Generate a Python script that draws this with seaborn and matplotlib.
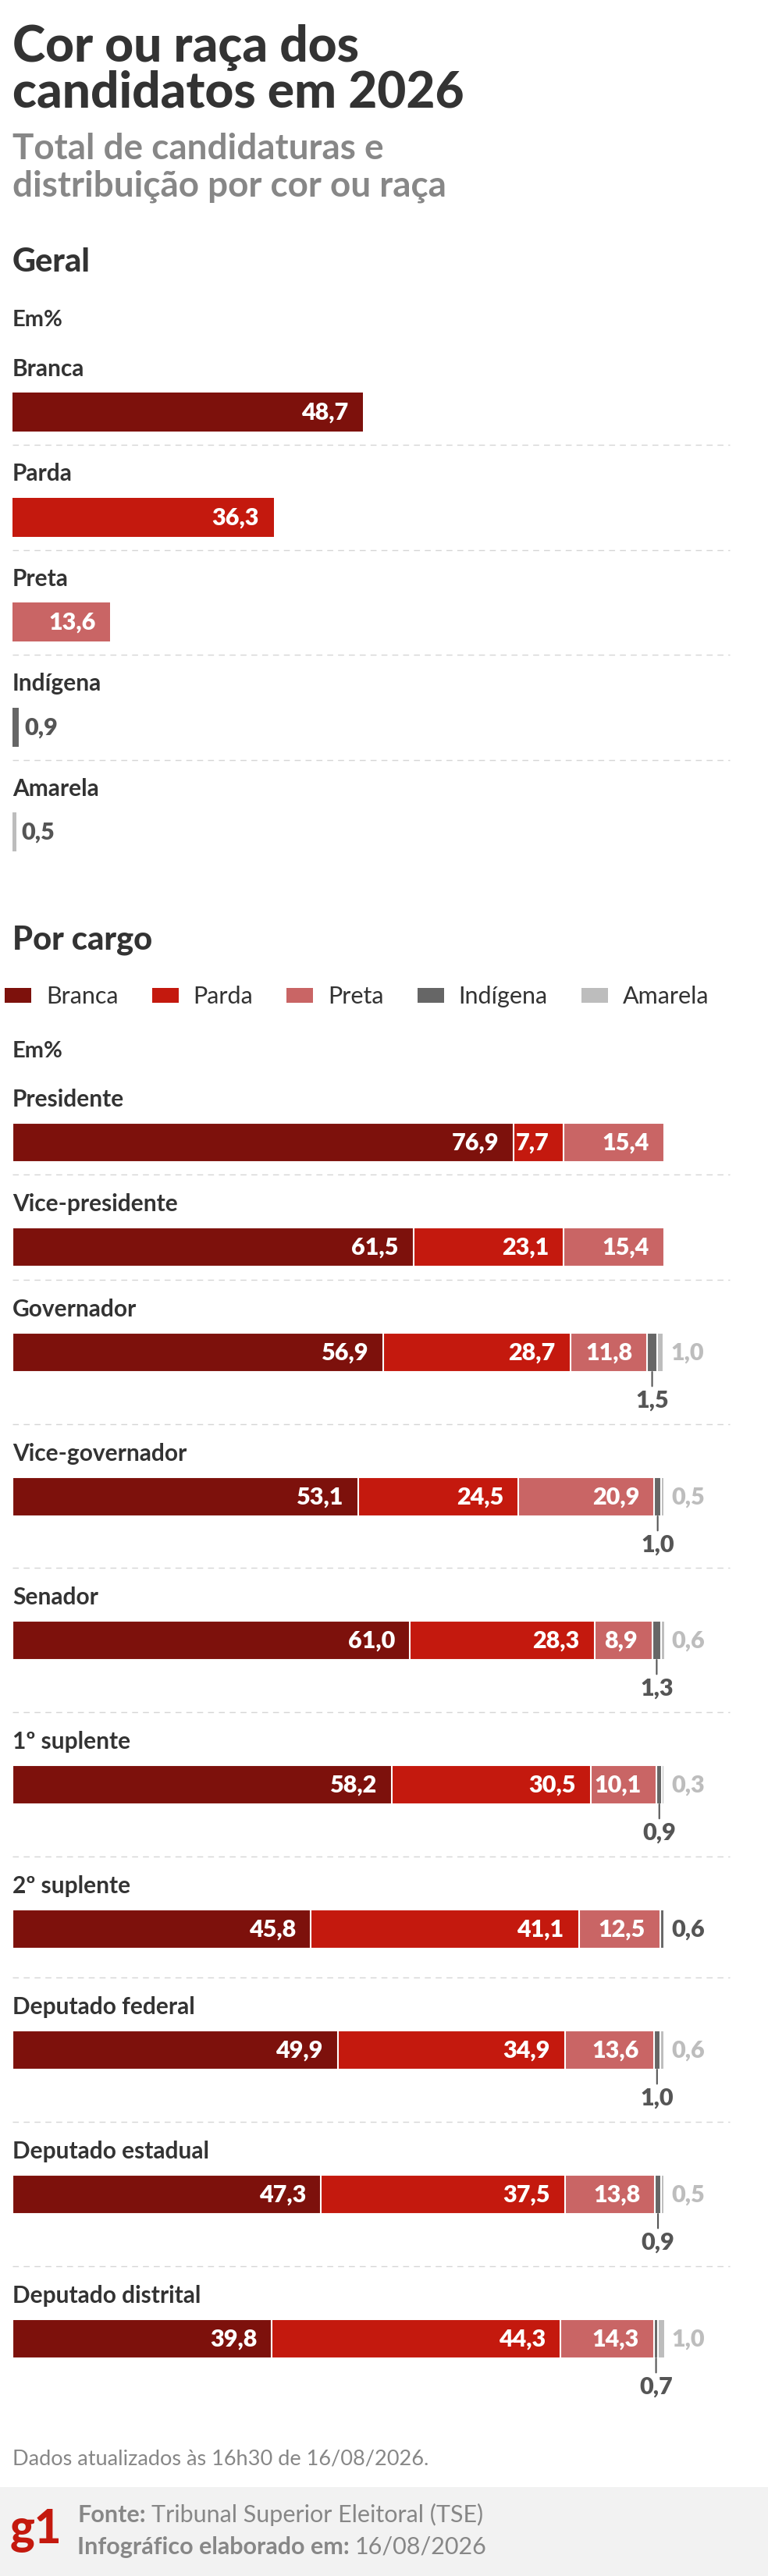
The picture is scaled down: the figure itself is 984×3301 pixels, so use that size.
import matplotlib
matplotlib.use("Agg")
import matplotlib.pyplot as plt
import seaborn as sns
import pandas as pd
import numpy as np
from matplotlib.patches import Rectangle, Patch
from matplotlib.lines import Line2D

# ---------------- dados ----------------
cores = ["Branca", "Parda", "Preta", "Indígena", "Amarela"]
paleta = ["#7d110c", "#c4190e", "#c96565", "#666666", "#bdbdbd"]

geral = [48.7, 36.3, 13.6, 0.9, 0.5]

cargos = ["Presidente", "Vice-presidente", "Governador", "Vice-governador", "Senador",
          "1º suplente", "2º suplente", "Deputado federal", "Deputado estadual",
          "Deputado distrital"]
branca = [76.9, 61.5, 56.9, 53.1, 61.0, 58.2, 45.8, 49.9, 47.3, 39.8]
parda = [7.7, 23.1, 28.7, 24.5, 28.3, 30.5, 41.1, 34.9, 37.5, 44.3]
preta = [15.4, 15.4, 11.8, 20.9, 8.9, 10.1, 12.5, 13.6, 13.8, 14.3]
indigena = [0, 0, 1.5, 1.0, 1.3, 0.9, 0.6, 1.0, 0.9, 0.7]
amarela = [0, 0, 1.0, 0.5, 0.6, 0.3, 0, 0.6, 0.5, 1.0]

# ---------------- layout ----------------
W, H = 984, 3301
PT = 0.72  # px -> pt a 100 dpi
ESCURO = "#333333"
CINZA = "#878787"
ROTULO = "#555555"
FS_CAT = 21.5
FS_VAL = 22
PESADA = ["Lato Black", "Lato", "DejaVu Sans"]

sns.set_style("white")
plt.rcParams["font.family"] = ["Lato", "DejaVu Sans"]

fig = plt.figure(figsize=(W / 100, H / 100), dpi=100)
fig.patch.set_facecolor("white")


def fx(px):
    return px / W


def fy(px):
    return 1 - px / H


def txt(x, y, s, size, weight="bold", color=ESCURO, ha="left", family=None):
    kw = {"family": family} if family else {}
    return fig.text(fx(x), fy(y), s, fontsize=size, fontweight=weight,
                    color=color, va="baseline", ha=ha, **kw)


def fmt(v):
    return f"{v:.1f}".replace(".", ",")


def tracejado(y, x0=16, x1=935):
    fig.add_artist(Line2D([fx(x0), fx(x1)], [fy(y), fy(y)], color="#d6d6d6",
                          lw=1, linestyle=(0, (5.5, 4.5))))


def rotulo(ax, s, xy, dx, dy, ha, color, **kw):
    return ax.annotate(s, xy=xy, xytext=(dx * PT, dy * PT), textcoords="offset points",
                       ha=ha, va="baseline", fontsize=FS_VAL, fontweight="heavy",
                       color=color, annotation_clip=False, **kw)


# títulos
txt(16, 79, "Cor ou raça dos", 46, "black", family=PESADA)
txt(16, 138, "candidatos em 2026", 46, "black", family=PESADA)
txt(16, 204, "Total de candidaturas e", 33, "bold", CINZA)
txt(16, 252, "distribuição por cor ou raça", 33, "bold", CINZA)

# ---------------- Geral ----------------
txt(16, 348, "Geral", 30, "black", family=PESADA)
txt(16, 418, "Em%", 21, "bold")

passo = 134.5
centro0 = 528
larg_g = 922
ax_g = fig.add_axes([fx(16), fy(centro0 - passo / 2 + 5 * passo), fx(larg_g), 5 * passo / H])
df_g = pd.DataFrame({"cor": cores, "valor": geral})
sns.barplot(data=df_g, x="valor", y="cor", hue="cor", palette=paleta, orient="h",
            width=50 / passo, saturation=1, legend=False, linewidth=0, ax=ax_g)
ax_g.set_xlim(0, 100)
ax_g.set_ylim(4.5, -0.5)
ax_g.axis("off")

for i, (cor, v) in enumerate(zip(cores, geral)):
    ax_g.annotate(cor, xy=(0, i), xytext=(0, 46 * PT), textcoords="offset points",
                  ha="left", va="baseline", fontsize=FS_CAT, fontweight="bold", color=ESCURO)
    if v > 5:
        rotulo(ax_g, fmt(v), (v, i), -19, -10, "right", "white")
    else:
        rotulo(ax_g, fmt(v), (v, i), 7, -10, "left", ROTULO)
    if i < len(cores) - 1:
        tracejado(centro0 + i * passo + 42)

# ---------------- Por cargo ----------------
txt(16, 1217, "Por cargo", 30, "black", family=PESADA)
leg_fs = 22
leg_px = leg_fs / PT
fig.legend(handles=[Patch(facecolor=c, edgecolor="none", label=n) for n, c in zip(cores, paleta)],
           loc="upper left", bbox_to_anchor=(fx(6), fy(1263)), ncol=5, frameon=False,
           fontsize=leg_fs, handlelength=34 / leg_px, handleheight=18 / leg_px,
           handletextpad=19 / leg_px, columnspacing=43 / leg_px, borderpad=0,
           borderaxespad=0, labelcolor=ESCURO)
txt(16, 1355, "Em%", 21, "bold")

topos = [1439, 1573, 1708, 1893, 2077, 2262, 2447, 2602, 2787, 2972]
larg_c = 835
for r, cargo in enumerate(cargos):
    topo = topos[r]
    ax = fig.add_axes([fx(16), fy(topo + 50), fx(larg_c), 50 / H])
    segs = [branca[r], parda[r], preta[r], indigena[r], amarela[r]]
    cum = np.cumsum(segs)
    for k in reversed(range(5)):
        if segs[k] == 0:
            continue
        sns.barplot(x=[cum[k]], y=[cargo], orient="h", color=paleta[k], width=1,
                    saturation=1, edgecolor="white", linewidth=1.5, ax=ax)
    ax.set_xlim(0, 100)
    ax.set_ylim(0.5, -0.5)
    ax.axis("off")

    txt(16, topo - 21, cargo, FS_CAT, "bold")

    for k in range(3):
        rotulo(ax, fmt(segs[k]), (cum[k], 0), -19, -10, "right", "white")
    if segs[3] > 0:
        if segs[4] > 0:
            meio = cum[2] + segs[3] / 2
            rotulo(ax, fmt(segs[3]), (meio, 0.5), 0, -46, "center", ROTULO,
                   arrowprops=dict(arrowstyle="-", color=ROTULO, lw=1.5, shrinkA=1, shrinkB=0))
        else:
            rotulo(ax, fmt(segs[3]), (cum[3], 0), 9, -10, "left", ROTULO)
    if segs[4] > 0:
        rotulo(ax, fmt(segs[4]), (cum[4], 0), 9, -10, "left", "#bdbdbd")
    if r < len(cargos) - 1:
        tracejado(topos[r + 1] - 68)

# ---------------- rodapé ----------------
txt(16, 3159, "Dados atualizados às 16h30 de 16/08/2026.", 19.5, "normal", CINZA)
fig.add_artist(Rectangle((0, 0), 1, (H - 3187) / H, transform=fig.transFigure,
                         facecolor="#f2f2f2", edgecolor="none", zorder=0))
txt(13, 3259, "g1", 43, "black", "#c4190e", family=PESADA)

renderer = fig.canvas.get_renderer()
for y, negrito, resto in [(3232, "Fonte:", "Tribunal Superior Eleitoral (TSE)"),
                          (3273, "Infográfico elaborado em:", "16/08/2026")]:
    t = txt(99, y, negrito, 22, "bold", CINZA)
    w = t.get_window_extent(renderer).width
    txt(99 + w + 7, y, resto, 22, "normal", CINZA)

fig.savefig("out.png", dpi=100, facecolor="white")
